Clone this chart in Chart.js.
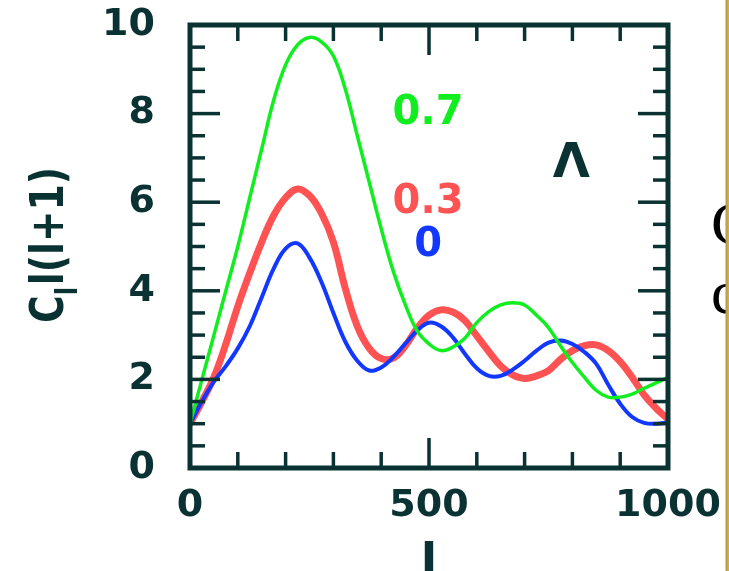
<!DOCTYPE html>
<html><head><meta charset="utf-8">
<script src="https://cdn.jsdelivr.net/npm/chart.js@4/dist/chart.umd.min.js"></script>
<style>html,body{margin:0;padding:0;background:#fff;overflow:hidden}canvas{display:block}</style>
</head><body><canvas id="c" width="729" height="571"></canvas>
<script>
// multipole l
const ell = [0,25,50,75,100,125,150,175,200,225,250,275,300,325,350,375,400,425,450,475,500,
  525,550,575,600,625,650,675,700,725,750,775,800,825,850,875,900,925,950,975,1000];
// C_l l(l+1) for Lambda = 0.7
const lambda07 = [1.0,2.0,3.0,4.0,5.0,6.1,7.2,8.3,9.1,9.55,9.72,9.62,9.3,8.55,7.5,6.45,5.4,4.45,3.7,3.1,2.8,
  2.65,2.73,2.93,3.28,3.53,3.68,3.73,3.68,3.45,3.17,2.76,2.38,2.05,1.75,1.6,1.6,1.67,1.8,1.92,2.05];
// Lambda = 0.3
const lambda03 = [1.0,1.5,2.05,2.8,3.65,4.4,5.1,5.7,6.1,6.3,6.15,5.75,5.1,4.05,3.2,2.7,2.47,2.48,2.75,3.15,3.45,
  3.57,3.52,3.33,2.98,2.63,2.3,2.1,2.02,2.08,2.2,2.45,2.65,2.76,2.78,2.65,2.4,2.05,1.65,1.35,1.1];
// Lambda = 0
const lambda00 = [1.0,1.5,1.95,2.3,2.7,3.2,3.85,4.5,4.95,5.07,4.75,4.2,3.5,2.85,2.42,2.2,2.27,2.5,2.8,3.1,3.28,
  3.2,2.95,2.58,2.25,2.08,2.08,2.22,2.42,2.65,2.83,2.88,2.8,2.62,2.35,1.88,1.45,1.15,1.02,1.0,1.03];
const seriesNames = ['0.7','0.3','0'];
const xTickValues = [0,500,1000];
const yTickValues = [0,2,4,6,8,10];

const AX = '#0a3232';
const COLORS = {g:'#10ee20', r:'#ff5252', b:'#1238ff'};
const toXY = arr => arr.map((v,i)=>({x:ell[i], y:v}));

const decor = {
  id:'decor',
  afterDatasetsDraw(chart){
    const {ctx, chartArea:a, scales:{x,y}} = chart;
    ctx.save();
    ctx.strokeStyle = AX;
    const line=(x1,y1,x2,y2)=>{ctx.beginPath();ctx.moveTo(x1,y1);ctx.lineTo(x2,y2);ctx.stroke();};
    ctx.lineWidth = 3.5;
    for (let v=100; v<1000; v+=100){
      const px = x.getPixelForValue(v); const L = v%500===0?30:16;
      line(px,a.bottom,px,a.bottom-L); line(px,a.top,px,a.top+L);
    }
    for (let i=1;i<20;i++){
      const v=i*0.5; const py=y.getPixelForValue(v); const L=(v%2===0)?30:15;
      line(a.left,py,a.left+L,py); line(a.right,py,a.right-L,py);
    }
    ctx.lineWidth = 5;
    ctx.strokeRect(a.left,a.top,a.right-a.left,a.bottom-a.top);
    // series labels
    ctx.textAlign='center'; ctx.textBaseline='middle';
    ctx.font = 'bold 40px "DejaVu Sans"';
    const lab = [[seriesNames[0],COLORS.g,498,8.0],[seriesNames[1],COLORS.r,498,6.0],[seriesNames[2],COLORS.b,498,5.02]];
    lab.forEach(([t,c,lx,ly])=>{ctx.fillStyle=c; ctx.fillText(t, x.getPixelForValue(lx), y.getPixelForValue(ly));});
    ctx.fillStyle = AX;
    ctx.font = 'bold 48px "DejaVu Sans"';
    ctx.fillText('\u039B', x.getPixelForValue(798), y.getPixelForValue(6.84));
    ctx.restore();
  },
  afterDraw(chart){
    const {ctx} = chart;
    ctx.save();
    // y axis title  C_l l(l+1)
    ctx.fillStyle = AX;
    ctx.translate(63, 323); ctx.rotate(-Math.PI/2);
    const big='bold 46px "DejaVu Sans"', small='bold 30px "DejaVu Sans"';
    ctx.font=big; const wC=ctx.measureText('C').width; const wM=ctx.measureText('l(l+1)').width;
    ctx.font=small; const wS=ctx.measureText('l').width;
    const sx = 156/(wC+wS+wM+2);
    ctx.scale(sx,1);
    ctx.textBaseline='alphabetic'; ctx.textAlign='left';
    ctx.font=big; ctx.fillText('C',0,0);
    ctx.font=small; ctx.fillText('l',wC,14);
    ctx.font=big; ctx.fillText('l(l+1)',wC+wS+2,0);
    ctx.restore();
    ctx.save();
    ctx.fillStyle = AX; ctx.textAlign='center'; ctx.textBaseline='alphabetic';
    ctx.font='bold 48px "DejaVu Sans"';
    ctx.fillText('l', chart.scales.x.getPixelForValue(500), 578);
    // cropped slide fragment on the right
    ctx.fillStyle='#000'; ctx.textAlign='left';
    ctx.font='62px "Liberation Serif"';
    ctx.fillText('C', 711, 244);
    ctx.fillText('c', 711, 313);
    const g = ctx.createLinearGradient(725,0,729,0);
    g.addColorStop(0,'#b8903c'); g.addColorStop(1,'#d4b060');
    ctx.fillStyle=g; ctx.fillRect(725.5,0,4,571);
    ctx.restore();
  }
};

new Chart(document.getElementById('c'), {
  type:'line',
  data:{datasets:[
    {label:seriesNames[0], data:toXY(lambda07), borderColor:COLORS.g, borderWidth:3.5},
    {label:seriesNames[2], data:toXY(lambda00), borderColor:COLORS.b, borderWidth:4},
    {label:seriesNames[1], data:toXY(lambda03), borderColor:COLORS.r, borderWidth:7}
  ]},
  options:{
    responsive:false, animation:false, devicePixelRatio:1,
    layout:{padding:{left:0,top:25,right:61,bottom:0}},
    elements:{point:{radius:0}, line:{tension:0.4, borderJoinStyle:'round', borderCapStyle:'round'}},
    plugins:{legend:{display:false}, tooltip:{enabled:false}},
    scales:{
      x:{type:'linear', min:0, max:1000,
        afterBuildTicks:s=>{s.ticks = xTickValues.map(v=>({value:v}));},
        afterFit:s=>{s.height=103; s.paddingLeft=0; s.paddingRight=0;},
        grid:{display:false}, border:{display:false},
        ticks:{padding:7, color:AX, font:{family:'DejaVu Sans', weight:'bold', size:38}, maxRotation:0,
          callback:v=>String(v)}},
      y:{type:'linear', min:0, max:10,
        afterBuildTicks:s=>{s.ticks = yTickValues.map(v=>({value:v}));},
        afterFit:s=>{s.width=190; s.paddingTop=0; s.paddingBottom=0;},
        grid:{display:false}, border:{display:false},
        ticks:{padding:27, color:AX, font:{family:'DejaVu Sans', weight:'bold', size:38}, callback:v=>String(v)}}
    }
  },
  plugins:[decor]
});
</script>
</body></html>
